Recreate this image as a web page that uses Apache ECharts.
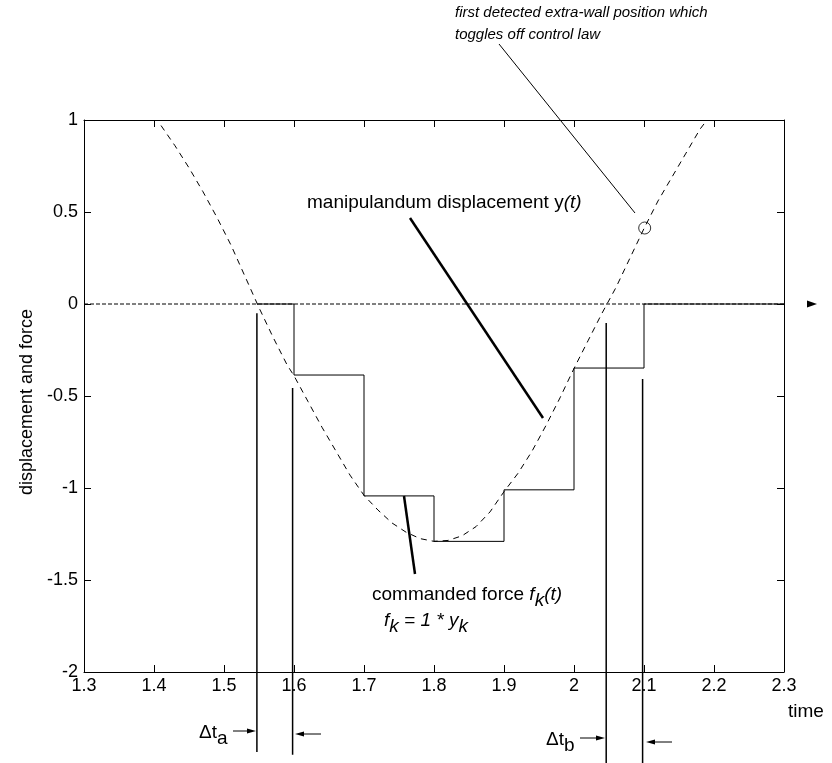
<!DOCTYPE html>
<html>
<head>
<meta charset="utf-8">
<script src="https://cdn.jsdelivr.net/npm/echarts@6/dist/echarts.min.js"></script>
<style>html,body{margin:0;padding:0;background:#fff;}#c{width:832px;height:763px;}</style>
</head>
<body>
<div id="c"></div>
<script>
// manipulandum displacement y(t) (dashed curve)
const curveTimes = [1.41,1.43,1.45,1.47,1.49,1.51,1.53,1.55,1.57,1.59,1.60,1.62,1.64,1.66,1.68,1.70,1.72,1.74,1.76,1.78,1.80,1.82,1.84,1.86,1.88,1.90,1.92,1.94,1.96,1.98,2.00,2.02,2.04,2.06,2.08,2.10,2.12,2.14,2.16,2.18,2.19];
const curveValues = [0.97,0.86,0.74,0.61,0.47,0.32,0.15,-0.02,-0.18,-0.33,-0.39,-0.53,-0.67,-0.80,-0.93,-1.04,-1.12,-1.19,-1.24,-1.275,-1.29,-1.285,-1.26,-1.21,-1.13,-1.02,-0.92,-0.80,-0.66,-0.51,-0.35,-0.20,-0.05,0.09,0.25,0.41,0.56,0.69,0.82,0.95,1.0];
// commanded force f_k(t) (sample-and-hold)
const sampleTimes = [1.547, 1.6, 1.7, 1.8, 1.9, 2.0, 2.1, 2.3];
const forceValues = [0, -0.386, -1.043, -1.29, -1.01, -0.348, 0, 0];
// first detected extra-wall position
const detectedPoint = [2.101, 0.413];
// delta-t marker lines
const markerTimes = [1.547, 1.598, 2.046, 2.098];
const markerTops = [-0.05, -0.457, -0.103, -0.408];
const markerBottoms = [-2.435, -2.45, -2.55, -2.55];
// zero reference line
const zeroLine = [[1.3, 0], [2.34, 0]];

const FONT = "'Liberation Sans', Arial, Helvetica, sans-serif";
const chart = echarts.init(document.getElementById('c'), null, {renderer: 'canvas'});

const series = [];
series.push({
  type: 'line', data: zeroLine.map((p, i) => i === zeroLine.length - 1
    ? {value: p, symbol: 'triangle', symbolSize: [7, 10], symbolRotate: -90}
    : {value: p, symbol: 'none'}),
  showSymbol: true, clip: false, silent: true, z: 2,
  itemStyle: {color: '#000'},
  lineStyle: {color: '#000', width: 1, type: [4, 2]}
});
series.push({
  type: 'line', data: curveTimes.map((t, i) => [t, curveValues[i]]),
  showSymbol: false, symbol: 'none', smooth: false, clip: false, silent: true, z: 3,
  lineStyle: {color: '#000', width: 1, type: [6, 5]}
});
series.push({
  type: 'line', step: 'end', data: sampleTimes.map((t, i) => [t, forceValues[i]]),
  showSymbol: false, symbol: 'none', clip: false, silent: true, z: 4,
  lineStyle: {color: '#000', width: 1}
});
markerTimes.forEach((t, i) => {
  series.push({
    type: 'line', data: [[t, markerTops[i]], [t, markerBottoms[i]]],
    showSymbol: false, symbol: 'none', clip: false, silent: true, z: 4,
    lineStyle: {color: '#000', width: 1.5}
  });
});
series.push({
  type: 'scatter', data: [detectedPoint], symbol: 'circle', symbolSize: 12, z: 5,
  itemStyle: {color: 'rgba(0,0,0,0)', borderColor: '#000', borderWidth: 1}, silent: true
});

const axisCommon = {
  axisLine: {show: true, onZero: false, lineStyle: {color: '#000', width: 1}},
  axisTick: {show: true, inside: true, length: 7, lineStyle: {color: '#000'}},
  splitLine: {show: false}
};

function txt(x, y, text, font, extra) {
  return Object.assign({type: 'text', x: x, y: y,
    style: Object.assign({text: text, font: font, fill: '#000',
      align: 'left', verticalAlign: 'middle', textAlign: 'left', textVerticalAlign: 'middle'}, extra || {})});
}
const IT19 = 'italic 19px ' + FONT;
const R19 = '19px ' + FONT;
const R18 = '18px ' + FONT;
const subRich = {
  i: {font: IT19, fill: '#000'},
  s: {font: IT19, fill: '#000', padding: [12, 0, 0, 0]},
  r: {font: R19, fill: '#000', padding: [12, 0, 0, 0]}
};

const option = {
  animation: false,
  backgroundColor: '#fff',
  grid: {left: 84, top: 120, right: 48, bottom: 91, containLabel: false},
  xAxis: [
    Object.assign({type: 'value', min: 1.3, max: 2.3, interval: 0.1, position: 'bottom',
      axisLabel: {show: true, color: '#000', fontSize: 18, fontFamily: FONT, margin: 5,
        showMinLabel: true, showMaxLabel: true,
        formatter: v => String(Math.round(v * 10) / 10)}}, axisCommon),
    Object.assign({type: 'value', min: 1.3, max: 2.3, interval: 0.1, position: 'top',
      axisLabel: {show: false}}, axisCommon)
  ],
  yAxis: [
    Object.assign({type: 'value', min: -2, max: 1, interval: 0.5, position: 'left',
      axisLabel: {show: true, color: '#000', fontSize: 18, fontFamily: FONT, margin: 6,
        showMinLabel: true, showMaxLabel: true}}, axisCommon),
    Object.assign({type: 'value', min: -2, max: 1, interval: 0.5, position: 'right',
      axisLabel: {show: false}}, axisCommon)
  ],
  series: series,
  graphic: [
    // y axis name
    {type: 'text', x: 27, y: 402, rotation: Math.PI / 2,
      style: {text: 'displacement and force', font: R18, fill: '#000',
        align: 'center', verticalAlign: 'middle', textAlign: 'center', textVerticalAlign: 'middle'}},
    // x axis name
    txt(788, 712, 'time', R19),
    // top annotation
    txt(455, 13, 'first detected extra-wall position which', 'italic 15px ' + FONT),
    txt(455, 35, 'toggles off control law', 'italic 15px ' + FONT),
    {type: 'line', shape: {x1: 499, y1: 44, x2: 635, y2: 213}, style: {stroke: '#000', lineWidth: 1}},
    // manipulandum displacement
    txt(307, 203, 'manipulandum displacement y{i|(t)}', R19, {rich: subRich}),
    {type: 'line', shape: {x1: 410, y1: 218, x2: 543, y2: 418}, style: {stroke: '#000', lineWidth: 2.5}},
    // commanded force
    txt(372, 595, 'commanded force {i|f}{s|k}{i|(t)}', R19, {rich: subRich}),
    txt(384, 621, '{i|f}{s|k}{i| = 1 * y}{s|k}', IT19, {rich: subRich}),
    {type: 'line', shape: {x1: 404, y1: 496, x2: 415, y2: 574}, style: {stroke: '#000', lineWidth: 2.5}},
    // delta t a
    txt(199, 733, 'Δt{r|a}', R19, {rich: subRich}),
    {type: 'line', shape: {x1: 233, y1: 731, x2: 249, y2: 731}, style: {stroke: '#000', lineWidth: 1}},
    {type: 'polygon', shape: {points: [[256, 731], [247, 728.5], [247, 733.5]]}, style: {fill: '#000'}},
    {type: 'line', shape: {x1: 303, y1: 734, x2: 321, y2: 734}, style: {stroke: '#000', lineWidth: 1}},
    {type: 'polygon', shape: {points: [[295, 734], [304, 731.5], [304, 736.5]]}, style: {fill: '#000'}},
    // delta t b
    txt(546, 740, 'Δt{r|b}', R19, {rich: subRich}),
    {type: 'line', shape: {x1: 580, y1: 738, x2: 598, y2: 738}, style: {stroke: '#000', lineWidth: 1}},
    {type: 'polygon', shape: {points: [[605, 738], [596, 735.5], [596, 740.5]]}, style: {fill: '#000'}},
    {type: 'line', shape: {x1: 654, y1: 742, x2: 672, y2: 742}, style: {stroke: '#000', lineWidth: 1}},
    {type: 'polygon', shape: {points: [[646, 742], [655, 739.5], [655, 744.5]]}, style: {fill: '#000'}}
  ]
};
chart.setOption(option);
</script>
</body>
</html>
